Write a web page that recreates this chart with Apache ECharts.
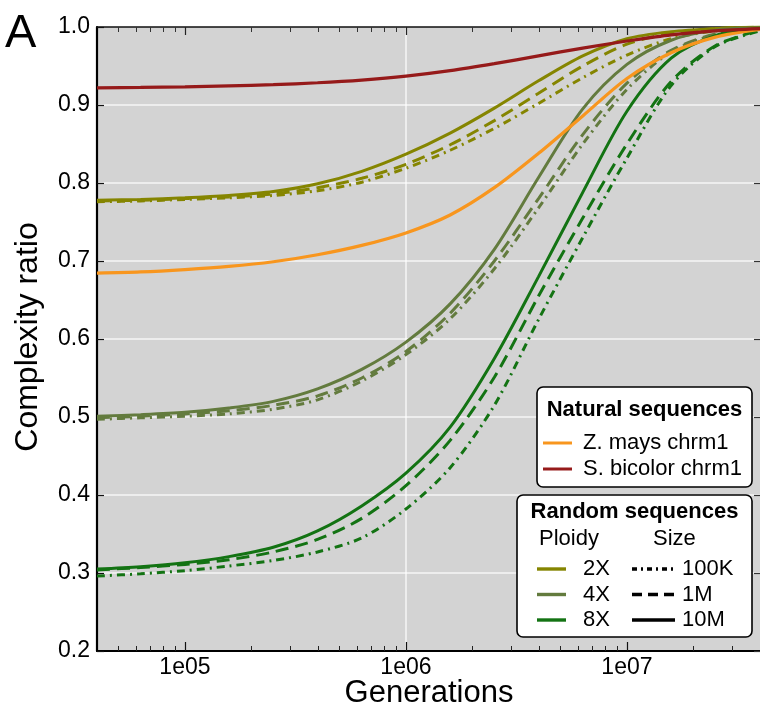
<!DOCTYPE html>
<html><head><meta charset="utf-8">
<script src="https://cdn.jsdelivr.net/npm/echarts@6/dist/echarts.min.js"></script>
<style>html,body{margin:0;padding:0;background:#fff}#c{width:760px;height:714px}</style>
</head><body><div id="c"></div>
<script>
// ---- data (x = generations, log scale) ----
const generations = [40000, 63000, 100000, 158000, 251000, 398000, 631000, 1000000, 1585000, 2512000, 3981000, 6310000, 10000000, 15850000, 25120000, 40000000];
const majorTicks = [100000, 1000000, 10000000];
const minorTicks = [50000, 60000, 70000, 80000, 90000, 200000, 300000, 400000, 500000, 600000, 700000, 800000, 900000, 2000000, 3000000, 4000000, 5000000, 6000000, 7000000, 8000000, 9000000, 20000000, 30000000];

const zMays     = [0.6845, 0.686, 0.689, 0.693, 0.699, 0.708, 0.720, 0.736, 0.759, 0.794, 0.838, 0.886, 0.934, 0.967, 0.987, 0.997];
const sBicolor  = [0.922, 0.9225, 0.9233, 0.9245, 0.926, 0.9285, 0.932, 0.937, 0.944, 0.953, 0.963, 0.973, 0.982, 0.990, 0.995, 0.998];

const r2x10M  = [0.778, 0.779, 0.781, 0.784, 0.789, 0.799, 0.815, 0.837, 0.864, 0.896, 0.931, 0.963, 0.985, 0.994, 0.998, 1.0];
const r2x1M   = [0.777, 0.778, 0.780, 0.782, 0.786, 0.794, 0.806, 0.824, 0.849, 0.880, 0.915, 0.950, 0.978, 0.992, 0.998, 1.0];
const r2x100K = [0.776, 0.777, 0.779, 0.781, 0.784, 0.790, 0.801, 0.819, 0.842, 0.870, 0.902, 0.935, 0.964, 0.985, 0.995, 0.999];

const r4x10M  = [0.501, 0.503, 0.506, 0.5115, 0.520, 0.536, 0.561, 0.596, 0.645, 0.715, 0.807, 0.895, 0.952, 0.983, 0.996, 0.999];
const r4x1M   = [0.499, 0.501, 0.504, 0.508, 0.515, 0.527, 0.550, 0.584, 0.633, 0.700, 0.780, 0.862, 0.928, 0.970, 0.991, 0.998];
const r4x100K = [0.497, 0.499, 0.501, 0.504, 0.510, 0.522, 0.546, 0.580, 0.626, 0.690, 0.768, 0.850, 0.920, 0.968, 0.990, 0.998];

const r8x10M  = [0.305, 0.308, 0.313, 0.321, 0.333, 0.354, 0.386, 0.428, 0.487, 0.575, 0.680, 0.788, 0.892, 0.960, 0.989, 0.998];
const r8x1M   = [0.304, 0.307, 0.311, 0.317, 0.327, 0.343, 0.370, 0.412, 0.470, 0.551, 0.655, 0.755, 0.850, 0.930, 0.976, 0.996];
const r8x100K = [0.296, 0.299, 0.303, 0.309, 0.316, 0.327, 0.345, 0.382, 0.435, 0.515, 0.625, 0.730, 0.832, 0.925, 0.975, 0.995];

const naturalNames = ['Z. mays chrm1', 'S. bicolor chrm1'];
const ploidyNames = ['2X', '4X', '8X'];
const sizeNames = ['100K', '1M', '10M'];

// ---- styles ----
const FONT = '"Liberation Sans", Arial, Helvetica, sans-serif';
const natColors = ['#F8961E', '#961A1A'];
const ploidyColors = ['#858500', '#637B3E', '#137313'];
const sizeDash = [[8, 5, 2, 5], [13, 7], 'solid'];
const legendDash = [[5, 4, 2, 4], [10, 6], null];

const pair = ys => generations.map((g, i) => [g, ys[i]]);
const series = [];
const randomData = [[r2x100K, r2x1M, r2x10M], [r4x100K, r4x1M, r4x10M], [r8x100K, r8x1M, r8x10M]];
randomData.forEach((group, p) => {
  group.forEach((ys, s) => {
    series.push({
      name: ploidyNames[p] + ' ' + sizeNames[s], type: 'line', data: pair(ys),
      showSymbol: false, smooth: 0.3, xAxisIndex: 0, yAxisIndex: 0,
      lineStyle: { color: ploidyColors[p], width: 3, type: sizeDash[s], cap: 'butt' }
    });
  });
});
[zMays, sBicolor].forEach((ys, i) => {
  series.push({
    name: naturalNames[i], type: 'line', data: pair(ys), showSymbol: false, smooth: 0.3,
    xAxisIndex: 0, yAxisIndex: 0,
    lineStyle: { color: natColors[i], width: 3.2 }
  });
});

const expFmt = v => { const e = Math.round(Math.log10(v)); return '1e' + String(e).padStart(2, '0'); };
const baseX = { type: 'log', logBase: 10, min: 40000, max: 40000000, gridIndex: 0 };

const xAxes = [
  Object.assign({}, baseX, {
    position: 'bottom',
    axisLine: { show: true, lineStyle: { color: '#000', width: 2.2 } },
    axisTick: { show: true, inside: true, length: 9, customValues: majorTicks, lineStyle: { color: '#111', width: 1.2 } },
    axisLabel: { show: true, customValues: majorTicks, formatter: expFmt, color: '#000', fontSize: 23, fontFamily: FONT, margin: 5 },
    splitLine: { show: true, showMinLine: false, showMaxLine: false, lineStyle: { color: 'rgba(255,255,255,0.6)', width: 2 } },
    minorTick: { show: false }
  }),
  Object.assign({}, baseX, {
    position: 'bottom',
    axisLine: { show: false },
    axisTick: { show: true, inside: true, length: 5, customValues: minorTicks, lineStyle: { color: '#222', width: 1 } },
    axisLabel: { show: false },
    splitLine: { show: false }
  }),
  Object.assign({}, baseX, {
    position: 'top',
    axisLine: { show: true, lineStyle: { color: '#111', width: 1.6 } },
    axisTick: { show: true, inside: true, length: 8, customValues: majorTicks, lineStyle: { color: '#222', width: 1.2 } },
    axisLabel: { show: false },
    splitLine: { show: false }
  }),
  Object.assign({}, baseX, {
    position: 'top',
    axisLine: { show: false },
    axisTick: { show: true, inside: true, length: 5, customValues: minorTicks, lineStyle: { color: '#333', width: 1 } },
    axisLabel: { show: false },
    splitLine: { show: false }
  })
];

const yAxes = [
  {
    type: 'value', min: 0.2, max: 1.0, interval: 0.1, position: 'left', gridIndex: 0,
    axisLine: { show: true, lineStyle: { color: '#000', width: 2.2 } },
    axisTick: { show: true, inside: true, length: 7, lineStyle: { color: '#111', width: 1.2 } },
    axisLabel: { formatter: v => v.toFixed(1), color: '#000', fontSize: 23, fontFamily: FONT, margin: 7 },
    splitLine: { show: true, showMinLine: false, showMaxLine: false, lineStyle: { color: 'rgba(255,255,255,0.6)', width: 2 } }
  },
  {
    type: 'value', min: 0.2, max: 1.0, interval: 0.1, position: 'right', gridIndex: 0,
    axisLine: { show: false },
    axisTick: { show: true, inside: true, length: 6, lineStyle: { color: '#333', width: 1.2 } },
    axisLabel: { show: false },
    splitLine: { show: false }
  }
];

// ---- legend (drawn as graphic) ----
const g = [];
const txt = (x, y, text, opts) => Object.assign({ type: 'text', x: x, y: y, z: 100,
  style: Object.assign({ text: text, fill: '#000', font: '22px ' + FONT, align: 'left', verticalAlign: 'middle' }, opts || {}) });
const seg = (x1, x2, y, color, dash, w) => ({ type: 'line', z: 100,
  shape: { x1: x1, y1: y, x2: x2, y2: y },
  style: { stroke: color, lineWidth: w || 3, lineDash: dash || null } });

g.push({ type: 'rect', z: 99, shape: { x: 537, y: 387, width: 215, height: 100, r: 6 }, style: { fill: '#fff', stroke: '#000', lineWidth: 1.6 } });
g.push(txt(644.5, 410, 'Natural sequences', { font: 'bold 22px ' + FONT, align: 'center' }));
naturalNames.forEach((n, i) => {
  const y = 443 + i * 26;
  g.push(seg(543, 572, y, natColors[i], null, 3));
  g.push(txt(583, y, n));
});

g.push({ type: 'rect', z: 99, shape: { x: 517, y: 495, width: 235, height: 142, r: 6 }, style: { fill: '#fff', stroke: '#000', lineWidth: 1.6 } });
g.push(txt(634.5, 512, 'Random sequences', { font: 'bold 22px ' + FONT, align: 'center' }));
g.push(txt(539, 539, 'Ploidy'));
g.push(txt(653, 539, 'Size'));
ploidyNames.forEach((n, i) => {
  const y = 569 + i * 25.5;
  g.push(seg(537, 566, y, ploidyColors[i], null, 3.4));
  g.push(txt(583, y, n));
  g.push(seg(632, 675, y, '#000', legendDash[i], 3.4));
  g.push(txt(682, y, sizeNames[i]));
});

// titles
g.push(txt(429, 693, 'Generations', { font: '31px ' + FONT, align: 'center' }));
g.push({ type: 'text', x: 28, y: 337, rotation: Math.PI / 2, z: 100,
  style: { text: 'Complexity ratio', fill: '#000', font: '32px ' + FONT, align: 'center', verticalAlign: 'middle' } });
g.push(txt(5, 34, 'A', { font: '47px ' + FONT }));

const chart = echarts.init(document.getElementById('c'), null, { renderer: 'canvas' });
chart.setOption({
  animation: false,
  backgroundColor: '#fff',
  grid: { left: 97, right: 0, top: 27, bottom: 63, show: true, backgroundColor: '#d3d3d3', borderWidth: 0, containLabel: false },
  xAxis: xAxes,
  yAxis: yAxes,
  series: series,
  graphic: g
});
</script></body></html>
